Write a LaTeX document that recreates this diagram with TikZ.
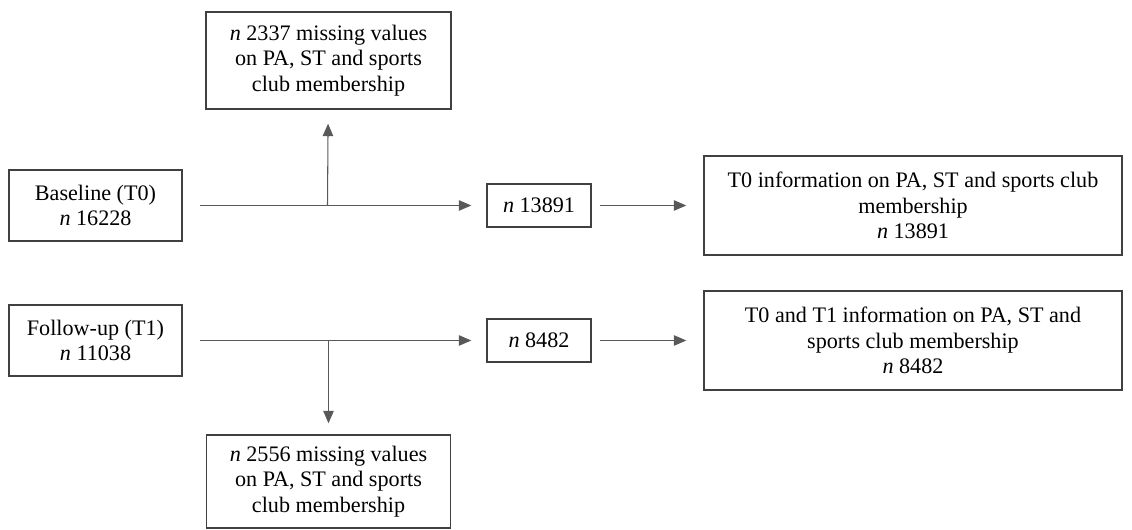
\documentclass[tikz,border=0pt]{standalone}
\usepackage{fontspec}
\setmainfont{Liberation Serif}
\usepackage{xcolor}
\usetikzlibrary{arrows.meta,positioning,calc}

\definecolor{boxline}{HTML}{404040}
\definecolor{arrowline}{HTML}{595959}

\begin{document}
\begin{tikzpicture}[
    box/.style={draw=boxline, thick, minimum width=#1, align=center,
                font=\fontsize{12.6}{14.6}\selectfont, inner sep=0pt},
    box/.default=3.46cm,
    arrow/.style={-{Triangle[length=2.5mm, width=2.1mm]}, arrowline, semithick},
]
    \useasboundingbox (0,0) rectangle (22.64,10.6);

    % Baseline row
    \node[box, minimum height=1.42cm] (base) at (1.91,6.49) {Baseline (T0)\\\textit{n} 16228};
    \node[box=4.9cm, minimum height=1.94cm] (miss0) at (6.57,9.39)
        {\textit{n} 2337 missing values\\on PA, ST and sports\\club membership};
    \node[box=2.08cm, minimum height=0.86cm] (n0) at (10.78,6.49) {\textit{n} 13891};
    \node[box=8.36cm, minimum height=1.98cm] (info0) at (18.26,6.49)
        {T0 information on PA, ST and sports club\\membership\\\textit{n} 13891};
    \coordinate (j0) at (6.55,6.49);

    % Follow-up row
    \node[box, minimum height=1.42cm] (follow) at (1.91,3.79) {Follow-up (T1)\\\textit{n} 11038};
    \node[box=4.88cm, minimum height=1.86cm] (miss1) at (6.57,0.97)
        {\textit{n} 2556 missing values\\on PA, ST and sports\\club membership};
    \node[box=2.08cm, minimum height=0.86cm] (n1) at (10.78,3.79) {\textit{n} 8482};
    \node[box=8.36cm, minimum height=1.98cm] (info1) at (18.26,3.79)
        {T0 and T1 information on PA, ST and\\sports club membership\\\textit{n} 8482};
    \coordinate (j1) at (6.57,3.79);

    % Arrows
    \draw[arrow, shorten <=0.34cm, shorten >=0.3cm] (base) -- (n0);
    \draw[arrow, shorten >=0.28cm] (j0) -- (miss0);
    \draw[arrow, shorten <=0.16cm, shorten >=0.34cm] (n0) -- (info0);

    \draw[arrow, shorten <=0.34cm, shorten >=0.3cm] (follow) -- (n1);
    \draw[arrow, shorten >=0.22cm] (j1) -- (miss1);
    \draw[arrow, shorten <=0.16cm, shorten >=0.34cm] (n1) -- (info1);
\end{tikzpicture}
\end{document}
